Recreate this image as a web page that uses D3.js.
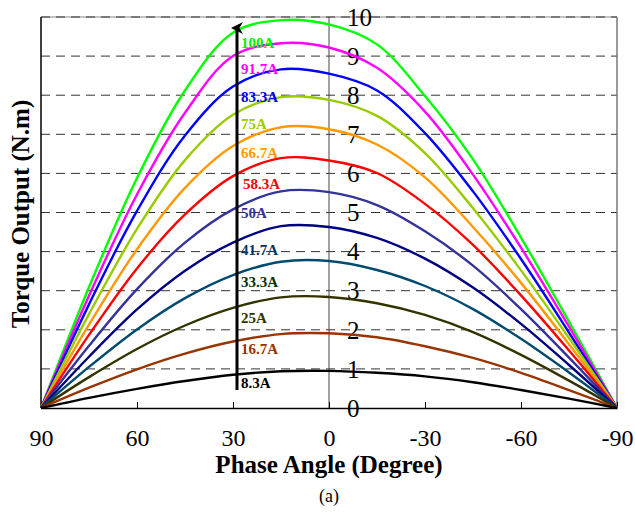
<!DOCTYPE html>
<html>
<head>
<meta charset="utf-8">
<script src="https://cdn.jsdelivr.net/npm/d3@7"></script>
<style>
  html, body { margin: 0; padding: 0; background: #fff; }
  svg { display: block; font-family: "Liberation Serif", "Times New Roman", serif; }
</style>
</head>
<body>
<svg id="chart" width="635" height="516"></svg>
<script>
// Phase angles (degrees), left to right
const angles = [90, 75, 60, 45, 30, 15, 0, -15, -30, -45, -60, -75, -90];

// Current labels (top to bottom) and line colours
const currents = ["100A", "91.7A", "83.3A", "75A", "66.7A", "58.3A", "50A", "41.7A", "33.3A", "25A", "16.7A", "8.3A"];
const lineColors = ["#00ff00", "#ff00ff", "#0000ff", "#99cc00", "#ff9900", "#ff0000", "#333399", "#000080", "#004a70", "#333300", "#993300", "#000000"];
const labelColors = ["#00ee00", "#ff00ff", "#0000ff", "#99cc00", "#ff9900", "#ff0000", "#333399", "#003366", "#003300", "#333300", "#993300", "#000000"];

// Torque output (N.m) for each current, one value per angle
const t100  = [0, 3.09, 5.88, 8.12, 9.60, 9.92, 9.81, 9.30, 7.98, 6.36, 4.36, 2.21, 0];
const t917  = [0, 2.87, 5.46, 7.55, 9.00, 9.33, 9.22, 8.70, 7.58, 5.97, 4.10, 2.08, 0];
const t833  = [0, 2.65, 5.04, 6.97, 8.22, 8.66, 8.55, 8.12, 7.03, 5.54, 3.81, 1.93, 0];
const t75   = [0, 2.40, 4.58, 6.34, 7.50, 7.95, 7.88, 7.47, 6.52, 5.11, 3.52, 1.79, 0];
const t667  = [0, 2.13, 4.06, 5.63, 6.70, 7.18, 7.13, 6.74, 5.90, 4.63, 3.20, 1.63, 0];
const t583  = [0, 1.87, 3.57, 4.95, 5.93, 6.39, 6.33, 6.01, 5.22, 4.17, 2.88, 1.47, 0];
const t50   = [0, 1.59, 3.04, 4.23, 5.08, 5.54, 5.52, 5.19, 4.52, 3.64, 2.53, 1.29, 0];
const t417  = [0, 1.31, 2.52, 3.51, 4.23, 4.65, 4.63, 4.35, 3.82, 3.08, 2.15, 1.10, 0];
const t333  = [0, 1.05, 2.01, 2.81, 3.40, 3.74, 3.76, 3.53, 3.12, 2.53, 1.77, 0.91, 0];
const t25   = [0, 0.79, 1.51, 2.11, 2.56, 2.83, 2.84, 2.68, 2.38, 1.94, 1.36, 0.70, 0];
const t167  = [0, 0.52, 0.99, 1.39, 1.70, 1.89, 1.91, 1.81, 1.58, 1.28, 0.90, 0.46, 0];
const t83   = [0, 0.26, 0.49, 0.69, 0.85, 0.94, 0.95, 0.90, 0.81, 0.66, 0.46, 0.24, 0];
const torque = [t100, t917, t833, t75, t667, t583, t50, t417, t333, t25, t167, t83];

// Axis ticks
const xTicks = [90, 60, 30, 0, -30, -60, -90];
const yTicks = [0, 1, 2, 3, 4, 5, 6, 7, 8, 9, 10];

// Layout
const plot = { left: 41, right: 617, top: 17, bottom: 408 };
const labelY = [43, 69, 97, 124, 153, 184, 213, 250, 282, 318, 349, 383];

const svg = d3.select("#chart");

const x = d3.scaleLinear().domain([90, -90]).range([plot.left, plot.right]);
const y = d3.scaleLinear().domain([0, 10]).range([plot.bottom, plot.top]);

// Solid top edge, then dashed grid lines over it
svg.append("line")
    .attr("x1", plot.left).attr("x2", plot.right)
    .attr("y1", plot.top).attr("y2", plot.top)
    .attr("stroke", "#888").attr("stroke-width", 1);

svg.append("g")
    .selectAll("line")
    .data(yTicks.filter(d => d > 0))
    .join("line")
    .attr("x1", plot.left)
    .attr("x2", plot.right)
    .attr("y1", d => y(d))
    .attr("y2", d => y(d))
    .attr("stroke", "#333")
    .attr("stroke-width", 1)
    .attr("stroke-dasharray", "9,6");

// Frame: right side grey, left black
svg.append("line")
    .attr("x1", plot.right).attr("x2", plot.right)
    .attr("y1", plot.top).attr("y2", plot.bottom)
    .attr("stroke", "#777").attr("stroke-width", 1.5);
svg.append("line")
    .attr("x1", plot.left).attr("x2", plot.left)
    .attr("y1", plot.top).attr("y2", plot.bottom)
    .attr("stroke", "#000").attr("stroke-width", 1.5);

// Zero phase line
svg.append("line")
    .attr("x1", x(0)).attr("x2", x(0))
    .attr("y1", plot.top).attr("y2", plot.bottom)
    .attr("stroke", "#444").attr("stroke-width", 1);

// X axis with upward ticks and labels further below
const xAxis = d3.axisBottom(x)
    .tickValues(xTicks)
    .tickSize(-6)
    .tickSizeOuter(0)
    .tickFormat(d3.format("d"));

const gx = svg.append("g")
    .attr("transform", `translate(0,${plot.bottom})`)
    .call(xAxis);
gx.select(".domain").attr("stroke", "#000").attr("stroke-width", 1.5);
gx.selectAll(".tick line").attr("stroke", "#000");
gx.selectAll(".tick text")
    .attr("y", 30)
    .attr("dy", "0.32em")
    .attr("fill", "#000")
    .style("font-family", "'Liberation Serif', serif")
    .style("font-size", "24px")
    .text(d => d === 0 ? "0" : (d < 0 ? "-" + Math.abs(d) : d));

// Y tick labels to the right of the zero line
svg.append("g")
    .selectAll("text")
    .data(yTicks)
    .join("text")
    .attr("x", 347)
    .attr("y", d => y(d))
    .attr("dy", "0.35em")
    .attr("font-size", 25)
    .attr("fill", "#000")
    .text(d => d);

// Curves
const line = d3.line()
    .x((d, i) => x(angles[i]))
    .y(d => y(d))
    .curve(d3.curveCatmullRom.alpha(0.5));

svg.append("g")
    .selectAll("path")
    .data(torque)
    .join("path")
    .attr("d", line)
    .attr("fill", "none")
    .attr("stroke", (d, i) => lineColors[i])
    .attr("stroke-width", 2.4);

// Arrow showing increasing current
svg.append("defs").append("marker")
    .attr("id", "head")
    .attr("viewBox", "0 0 10 10")
    .attr("refX", 5).attr("refY", 5)
    .attr("markerWidth", 4).attr("markerHeight", 4)
    .attr("orient", "auto")
    .append("path")
    .attr("d", "M0,10 L5,0 L10,10 L5,7 Z")
    .attr("fill", "#000");

svg.append("line")
    .attr("x1", 237).attr("x2", 237)
    .attr("y1", 390).attr("y2", 28)
    .attr("stroke", "#000")
    .attr("stroke-width", 3)
    .attr("marker-end", "url(#head)");

// Current labels
svg.append("g")
    .selectAll("text")
    .data(currents)
    .join("text")
    .attr("x", (d, i) => i === 5 ? 243 : 241)
    .attr("y", (d, i) => labelY[i])
    .attr("dy", "0.35em")
    .attr("font-size", 15)
    .attr("font-weight", "bold")
    .attr("fill", (d, i) => labelColors[i])
    .text(d => d);

// Axis titles
svg.append("text")
    .attr("x", 329)
    .attr("y", 464)
    .attr("dy", "0.35em")
    .attr("text-anchor", "middle")
    .attr("font-size", 25)
    .attr("font-weight", "bold")
    .text("Phase Angle (Degree)");

svg.append("text")
    .attr("transform", "translate(20,214) rotate(-90)")
    .attr("dy", "0.35em")
    .attr("text-anchor", "middle")
    .attr("font-size", 25)
    .attr("font-weight", "bold")
    .text("Torque Output (N.m)");

svg.append("text")
    .attr("x", 329)
    .attr("y", 496)
    .attr("dy", "0.35em")
    .attr("text-anchor", "middle")
    .attr("font-size", 18)
    .text("(a)");
</script>
</body>
</html>
